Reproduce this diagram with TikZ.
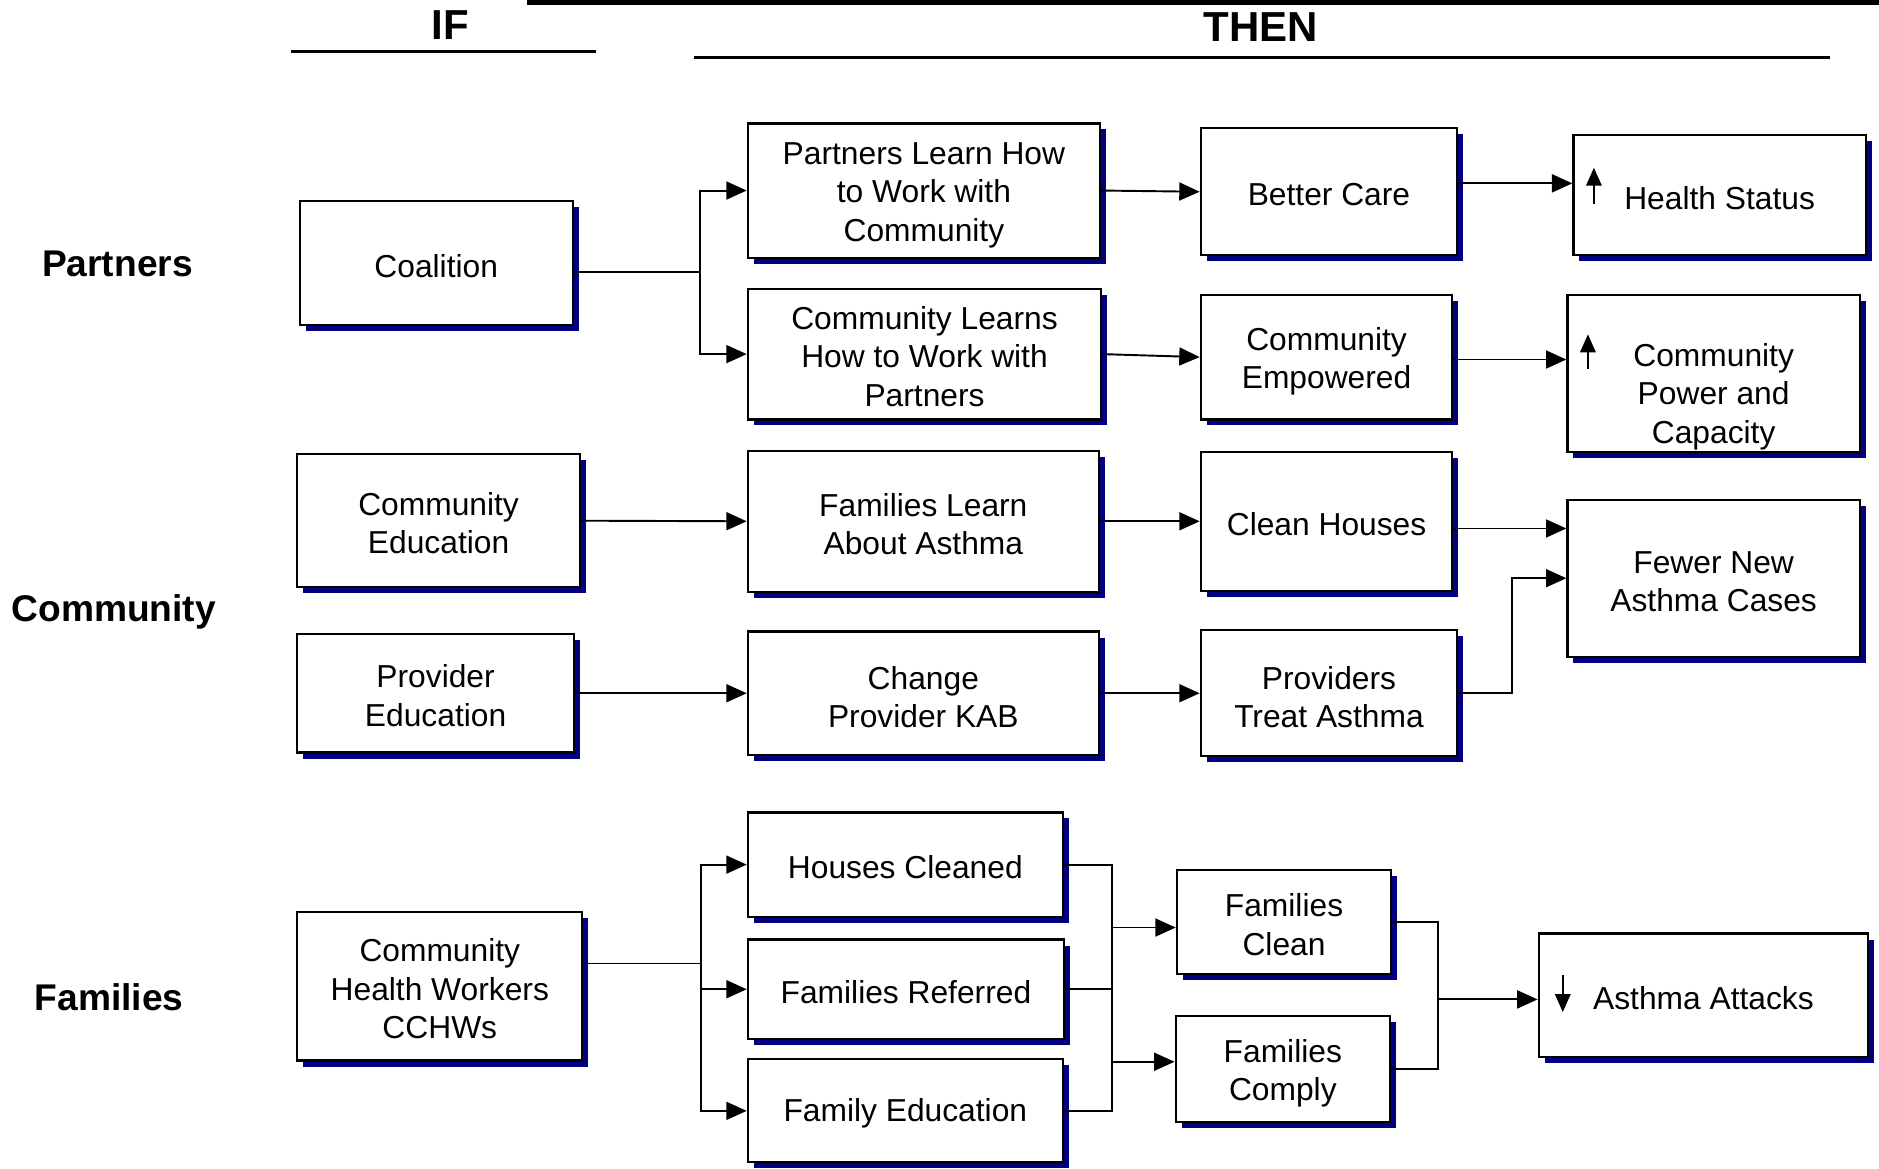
\documentclass[tikz,border=0pt]{standalone}
\usepackage{fontspec}
\setmainfont{Liberation Sans}
\usetikzlibrary{arrows.meta,shadows,calc}
\definecolor{navyc}{RGB}{0,0,128}
\begin{document}
\begin{tikzpicture}[x=1pt,y=-1pt,
  box/.style={draw=black,line width=1.8pt,fill=white,align=center,
    font=\fontsize{26.5}{32}\selectfont,inner sep=0pt,
    execute at begin node={\rule{0pt}{24pt}},
    drop shadow={shadow xshift=5pt,shadow yshift=-5pt,fill=navyc,opacity=1}},
  btext/.style={align=center,font=\fontsize{26.5}{32}\selectfont,inner sep=0pt},
  conn/.style={line width=1.6pt},
  arr/.style={conn,-{Triangle[length=17pt,width=15pt]}},
  smallarr/.style={line width=1.4pt,-{Triangle[length=15pt,width=13pt]}},
  lab/.style={font=\fontsize{31}{36}\selectfont\bfseries},
  head/.style={font=\fontsize{35}{40}\selectfont\bfseries}]
\useasboundingbox (0,0) rectangle (1568,975);

% header
\fill (440,0) rectangle (1568,4);
\node[head] (if) at (376,21) {IF};
\node[head] (then) at (1052,23) {THEN};
\draw[line width=2.5pt] (243,43) -- (497,43);
\draw[line width=2.5pt] (579,48) -- (1527,48);

% row labels
\node[lab] (lp) at (98,220) {Partners};
\node[lab] (lc) at (95,511) {Community};
\node[lab] (lf) at (91,832) {Families};

% IF column
\node[box,minimum width=228pt,minimum height=103pt] (coal) at (364,219.5) {Coalition};
\node[box,minimum width=236pt,minimum height=111pt] (ced) at (366,434.5) {};
\node[btext] (cedt) at (366,436.5) {Community\\Education};
\node[box,minimum width=231pt,minimum height=99pt] (ped) at (363.5,578.5) {};
\node[btext] (pedt) at (363.5,580.5) {Provider\\Education};
\node[box,minimum width=238pt,minimum height=124pt] (chw) at (367,823) {};
\node[btext] (chwt) at (367,825) {Community\\Health Workers\\CCHWs};

% second column
\node[box,minimum width=294pt,minimum height=112pt] (plw) at (771,159) {};
\node[btext] (plwt) at (771,163) {Partners Learn How\\to Work with\\Community};
\node[box,minimum width=295pt,minimum height=109pt] (clw) at (771.5,295.5) {};
\node[btext] (clwt) at (771.5,297.5) {Community Learns\\How to Work with\\Partners};
\node[box,minimum width=293pt,minimum height=118pt] (fla) at (770.5,435) {};
\node[btext] (flat) at (770.5,437.5) {Families Learn\\About Asthma};
\node[box,minimum width=293pt,minimum height=103pt] (kab) at (770.5,578.5) {};
\node[btext] (kabt) at (770.5,581.5) {Change\\Provider KAB};
\node[box,minimum width=263pt,minimum height=87pt] (hc) at (755.5,721.5) {Houses Cleaned};
\node[box,minimum width=264pt,minimum height=83pt] (fr) at (756,825.5) {Families Referred};
\node[box,minimum width=263pt,minimum height=86pt] (fe) at (755.5,927) {Family Education};

% third column
\node[box,minimum width=214pt,minimum height=106pt] (bc) at (1109,160) {Better Care};
\node[box,minimum width=210pt,minimum height=104pt] (cem) at (1107,298) {};
\node[btext] (cemt) at (1107,301.5) {Community\\Empowered};
\node[box,minimum width=210pt,minimum height=116pt] (ch) at (1107,435) {Clean Houses};
\node[box,minimum width=214pt,minimum height=105pt] (pta) at (1109,578.5) {};
\node[btext] (ptat) at (1109,581.5) {Providers\\Treat Asthma};
\node[box,minimum width=179pt,minimum height=87pt] (fcl) at (1071.5,769.5) {};
\node[btext] (fclt) at (1071.5,771.5) {Families\\Clean};
\node[box,minimum width=179pt,minimum height=88pt] (fco) at (1070.5,892) {};
\node[btext] (fcot) at (1070.5,895.5) {Families\\Comply};

% fourth column
\node[box,minimum width=244pt,minimum height=100pt] (hs) at (1435,163) {Health Status};
\node[box,minimum width=244pt,minimum height=131pt] (cpc) at (1430,311.5) {};
\node[btext] (cpct) at (1430,331) {Community\\Power and\\Capacity};
\node[box,minimum width=244pt,minimum height=131pt] (fn) at (1430,482.5) {};
\node[btext] (fnt) at (1430,485.5) {Fewer New\\Asthma Cases};
\node[box,minimum width=275pt,minimum height=103pt] (aa) at (1421.5,830.5) {Asthma Attacks};

% small direction arrows
\draw[smallarr] ([xshift=18pt,yshift=-7pt]hs.west) -- ++(0,-30);
\draw[smallarr] ([xshift=18pt,yshift=3.5pt]cpc.west) -- ++(0,-29);
\draw[smallarr] ([xshift=21pt,yshift=17pt]aa.west) -- ++(0,31);

% connectors: partners
\coordinate (j1) at (584,227);
\draw[conn] (coal.east |- j1) -- (j1);
\draw[arr] (j1) |- (plw.west);
\draw[arr] (j1) |- (clw.west);
\draw[arr] (plw.east) -- (bc.west);
\draw[arr] (clw.east) -- (cem.west);
\draw[arr] ([yshift=7pt]bc.east) -- ([yshift=7pt]bc.east -| hs.west);
\draw[arr] ([yshift=-2pt]cem.east) -- ([yshift=-2pt]cem.east -| cpc.west);

% connectors: community
\draw[arr] (ced.east) -- (fla.west);
\draw[arr] (fla.east) -- (ch.west);
\draw[arr] ([yshift=-6pt]ch.east) -- ([yshift=-6pt]ch.east -| fn.west);
\draw[arr] (ped.east) -- (kab.west);
\draw[arr] (kab.east) -- (pta.west);
\coordinate (j5) at (1262,0);
\draw[arr] (pta.east) -- (pta.east -| j5) |- (fn.west);

% connectors: families
\coordinate (j2) at (585,804);
\draw[conn] (chw.east |- j2) -- (j2);
\draw[arr] (j2) |- (hc.west);
\draw[arr] (j2) |- (fr.west);
\draw[arr] (j2) |- (fe.west);
\coordinate (j3) at (928,0);
\draw[conn] (hc.east) -- (hc.east -| j3) -- (fe.east -| j3) -- (fe.east);
\draw[conn] (fr.east) -- (fr.east -| j3);
\draw[arr] ([yshift=-4.5pt]fcl.west -| j3) -- ([yshift=-4.5pt]fcl.west);
\draw[arr] ([yshift=6pt]fco.west -| j3) -- ([yshift=6pt]fco.west);
\coordinate (j4) at (1200,834);
\draw[conn] (fcl.east) -- (fcl.east -| j4) -- (fco.east -| j4) -- (fco.east);
\draw[arr] (j4) -- (j4 -| aa.west);
\end{tikzpicture}
\end{document}
